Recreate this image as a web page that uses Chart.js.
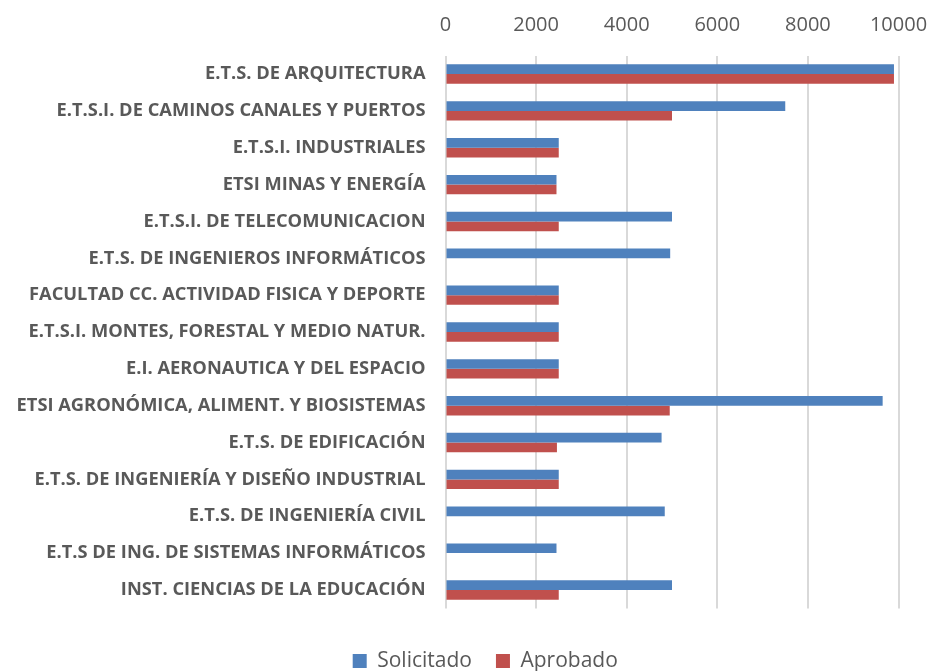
<!DOCTYPE html>
<html>
<head>
<meta charset="utf-8">
<script src="https://cdn.jsdelivr.net/npm/chart.js@4"></script>
<style>
  html, body { margin: 0; padding: 0; background: #ffffff; overflow: hidden; }
  #wrap { width: 932px; height: 671px; position: relative; }
</style>
</head>
<body>
<div id="wrap"><canvas id="c" width="932" height="671"></canvas></div>
<script>
const categories = [
  "E.T.S. DE ARQUITECTURA",
  "E.T.S.I. DE CAMINOS CANALES Y PUERTOS",
  "E.T.S.I. INDUSTRIALES",
  "ETSI MINAS Y ENERGÍA",
  "E.T.S.I. DE TELECOMUNICACION",
  "E.T.S. DE INGENIEROS INFORMÁTICOS",
  "FACULTAD CC. ACTIVIDAD FISICA Y DEPORTE",
  "E.T.S.I. MONTES, FORESTAL Y MEDIO NATUR.",
  "E.I. AERONAUTICA Y DEL ESPACIO",
  "ETSI AGRONÓMICA, ALIMENT. Y BIOSISTEMAS",
  "E.T.S. DE EDIFICACIÓN",
  "E.T.S. DE INGENIERÍA Y DISEÑO INDUSTRIAL",
  "E.T.S. DE INGENIERÍA CIVIL",
  "E.T.S DE ING. DE SISTEMAS INFORMÁTICOS",
  "INST. CIENCIAS DE LA EDUCACIÓN"
];
const solicitado = [9900, 7500, 2500, 2450, 5000, 4960, 2500, 2500, 2500, 9650, 4770, 2500, 4840, 2450, 5000];
const aprobado   = [9900, 5000, 2500, 2450, 2500, null, 2500, 2500, 2500, 4950, 2460, 2500, null, null, 2500];
const seriesNames = ["Solicitado", "Aprobado"];
const xTicks = [0, 2000, 4000, 6000, 8000, 10000];

const TEXT = "#595959";
const LEGEND_H = 62.6;
const LEGEND_DX = 36;
const LEGEND_DY = 18;

const legendShift = {
  id: 'legendShift',
  beforeLayout(chart) {
    const L = chart.legend;
    if (L && !L._fitPatched) {
      const orig = L.fit;
      L.fit = function () { orig.call(this); this.height = LEGEND_H; };
      L._fitPatched = true;
    }
  },
  afterUpdate(chart) {
    const L = chart.legend;
    if (!L) return;
    L.left += LEGEND_DX; L.right += LEGEND_DX;
    L.top += LEGEND_DY; L.bottom += LEGEND_DY;
    L.adjustHitBoxes();
  }
};

new Chart(document.getElementById('c'), {
  type: 'bar',
  data: {
    labels: categories,
    datasets: [
      { label: seriesNames[0], data: solicitado, backgroundColor: '#4F81BD', borderWidth: 0 },
      { label: seriesNames[1], data: aprobado, backgroundColor: '#C0504D', borderWidth: 0 }
    ]
  },
  options: {
    indexAxis: 'y',
    responsive: false,
    animation: false,
    devicePixelRatio: 1,
    categoryPercentage: 0.526,
    barPercentage: 1.0,
    layout: { padding: { left: 0, right: 33.5, top: 0, bottom: 0 } },
    scales: {
      x: {
        position: 'top',
        min: 0, max: 10000,
        afterBuildTicks(scale) { scale.ticks = xTicks.map(v => ({ value: v })); },
        afterFit(scale) { scale.height = 55.6; },
        grid: { color: '#d9d9d9', lineWidth: 2, drawTicks: true, tickLength: 18, tickColor: 'rgba(0,0,0,0)' },
        border: { display: false },
        ticks: {
          color: TEXT, padding: 0,
          font: { family: 'Open Sans', size: 20 },
          callback: (v) => String(v)
        }
      },
      y: {
        afterFit(scale) { scale.width = 445.5; },
        grid: { display: false, drawTicks: false },
        border: { display: false },
        ticks: { color: TEXT, padding: 20, autoSkip: false, font: { family: 'Open Sans', size: 18.3, weight: 'bold' } }
      }
    },
    plugins: {
      legend: {
        position: 'bottom',
        labels: {
          color: TEXT,
          boxWidth: 14, boxHeight: 14,
          padding: 24,
          font: { family: 'Open Sans', size: 21 }
        }
      },
      tooltip: { enabled: false }
    }
  },
  plugins: [legendShift]
});
</script>
</body>
</html>
